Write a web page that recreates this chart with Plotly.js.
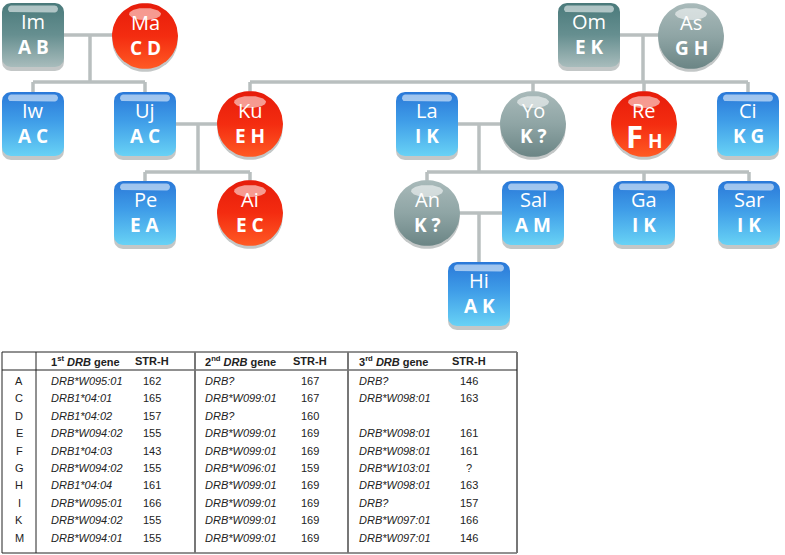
<!DOCTYPE html>
<html><head><meta charset="utf-8">
<script src="https://cdn.plot.ly/plotly-3.0.1.min.js"></script>
<style>html,body{margin:0;padding:0;background:#fff}</style>
</head><body><div id="chart" style="width:785px;height:555px"></div>
<script>
// ---- pedigree members ----
const names    = ['Im','Ma','Iw','Uj','Ku','Pe','Ai','Om','As','La','Yo','Re','Ci','An','Sal','Ga','Sar','Hi'];
const allele1  = ['A','C','A','A','E','E','E','E','G','I','K','F','K','K','A','I','I','A'];
const allele2  = ['B','D','C','C','H','A','C','K','H','K','?','H','G','?','M','K','K','K'];
const sex      = ['m','f','m','m','f','m','f','m','f','m','f','f','m','f','m','m','m','m'];
const group    = ['grey','red','blue','blue','red','blue','red','grey','grey','blue','grey','red','blue','grey','blue','blue','blue','blue'];
const bigFirst = [false,false,false,false,false,false,false,false,false,false,false,true,false,false,false,false,false,false];

// ---- matings (parent1, parent2, children) ----
const famP1   = ['Im','Uj','Om','La','An'];
const famP2   = ['Ma','Ku','As','Yo','Sal'];
const famKids = [['Iw','Uj'],['Pe','Ai'],['Ku','Yo','Re','Ci'],['An','Ga','Sar'],['Hi']];

// ---- allele table ----
const alleleIds = ['A','C','D','E','F','G','H','I','K','M'];
const gene1 = ['DRB*W095:01','DRB1*04:01','DRB1*04:02','DRB*W094:02','DRB1*04:03','DRB*W094:02','DRB1*04:04','DRB*W095:01','DRB*W094:02','DRB*W094:01'];
const strH1 = ['162','165','157','155','143','155','161','166','155','155'];
const gene2 = ['DRB?','DRB*W099:01','DRB?','DRB*W099:01','DRB*W099:01','DRB*W096:01','DRB*W099:01','DRB*W099:01','DRB*W099:01','DRB*W099:01'];
const strH2 = ['167','167','160','169','169','159','169','169','169','169'];
const gene3 = ['DRB?','DRB*W098:01','','DRB*W098:01','DRB*W098:01','DRB*W103:01','DRB*W098:01','DRB?','DRB*W097:01','DRB*W097:01'];
const strH3 = ['146','163','','161','161','?','163','157','166','146'];
const headers = ['<b>1<sup>st</sup> <i>DRB</i> gene</b>','<b>STR-H</b>','<b>2<sup>nd</sup> <i>DRB</i> gene</b>','<b>STR-H</b>','<b>3<sup>rd</sup> <i>DRB</i> gene</b>','<b>STR-H</b>'];

// ---- layout (pixel positions) ----
const nodePos = {Im:[33,35],Ma:[145,36],Iw:[33,124],Uj:[145,124],Ku:[250,124],Pe:[145,213],Ai:[250,213],
  Om:[589,35],As:[691,36],La:[427,124],Yo:[533,124],Re:[644,124],Ci:[748,124],An:[427,213],Sal:[533,213],
  Ga:[644,213],Sar:[749,213],Hi:[479,294]};
const famDrop = [90,198,643,479,479];
const famBar  = [82,172,82,172,262];
const BW=62, BH=64, BR=9, CR=33;

// colour stops written top -> bottom
const styles = {
  blue:{m:[[0,'#2a78d8'],[0.45,'#3f9de8'],[1,'#68d2f5']]},
  grey:{m:[[0,'#4a7a7b'],[0.5,'#668f90'],[1,'#a8bcbc']], f:[[0,'#a9baba'],[0.5,'#8fa5a5'],[1,'#6b8585']]},
  red:{f:[[0,'#e61c0a'],[0.5,'#f42c10'],[1,'#ff5a24']]}
};
const flip = cs => cs.map(s=>[1-s[0],s[1]]).reverse();

function rrect(cx,cy,w,h,r,dy){
  const xs=[],ys=[];const x0=cx-w/2,x1=cx+w/2,y0=cy-h/2+(dy||0),y1=cy+h/2+(dy||0);
  const corners=[[x1-r,y0+r,-90],[x1-r,y1-r,0],[x0+r,y1-r,90],[x0+r,y0+r,180]];
  corners.forEach(c=>{for(let i=0;i<=8;i++){const a=(c[2]+i*90/8)*Math.PI/180;xs.push(c[0]+r*Math.cos(a));ys.push(c[1]+r*Math.sin(a));}});
  xs.push(xs[0]);ys.push(ys[0]);return [xs,ys];
}
function ell(cx,cy,rx,ry){const xs=[],ys=[];for(let i=0;i<=72;i++){const a=i*2*Math.PI/72;xs.push(cx+rx*Math.cos(a));ys.push(cy+ry*Math.sin(a));}return [xs,ys];}

const traces=[];
// connecting lines
const lx=[],ly=[];
function seg(a,b,c,d){lx.push(a,c,null);ly.push(b,d,null);}
famP1.forEach((p,i)=>{
  const a=nodePos[p],b=nodePos[famP2[i]];
  seg(a[0],a[1],b[0],a[1]);
  seg(famDrop[i],a[1],famDrop[i],famBar[i]);
  const kx=famKids[i].map(k=>nodePos[k][0]).concat([famDrop[i]]);
  seg(Math.min(...kx),famBar[i],Math.max(...kx),famBar[i]);
  famKids[i].forEach(k=>seg(nodePos[k][0],famBar[i],nodePos[k][0],nodePos[k][1]));
});
traces.push({x:lx,y:ly,mode:'lines',line:{color:'#b9bfbf',width:3.5},hoverinfo:'skip',showlegend:false});

const shapes=[], ann=[];
names.forEach((n,i)=>{
  const [cx,cy]=nodePos[n];
  const sq=sex[i]==='m';
  const sh= sq? rrect(cx,cy,BW,BH,BR,4) : ell(cx,cy+3,CR,CR);
  traces.push({x:sh[0],y:sh[1],mode:'lines',fill:'toself',fillcolor:'#c3c7c7',line:{width:0},hoverinfo:'skip',showlegend:false});
  const body= sq? rrect(cx,cy,BW,BH,BR,0) : ell(cx,cy,CR,CR);
  const cs=flip(styles[group[i]][sex[i]]);
  traces.push({x:body[0],y:body[1],mode:'lines',fill:'toself',
    fillgradient:{type:'vertical',colorscale:cs},line:{width:0},hoverinfo:'skip',showlegend:false});
  const gl= sq? rrect(cx,cy-BH/2+6,BW-12,7,3.5,0) : ell(cx,cy-CR+11,16,6);
  traces.push({x:gl[0],y:gl[1],mode:'lines',fill:'toself',fillcolor:'rgba(255,255,255,0.55)',line:{width:0},hoverinfo:'skip',showlegend:false});
  ann.push({x:cx,y:cy-14,xref:'x',yref:'y',text:n,showarrow:false,font:{family:'Open Sans',size:20,color:'#fff'}});
  const g= bigFirst[i] ? '<span style="font-size:31px">'+allele1[i]+'</span> '+allele2[i] : allele1[i]+' '+allele2[i];
  ann.push({x:cx,y:cy+12,xref:'x',yref:'y',text:'<b>'+g+'</b>',showarrow:false,font:{family:'Open Sans',size:19,color:'#fff'}});
});

// table
const T={l:2,r:517,t:352,b:553,h:370};
const L=(x0,y0,x1,y1,c,w)=>shapes.push({type:'line',xref:'x',yref:'y',x0,y0,x1,y1,line:{color:c,width:w}});
L(T.l,T.t,T.r,T.t,'#222',1);L(T.l,T.b,T.r,T.b,'#222',1);L(T.l,T.t,T.l,T.b,'#222',1);L(T.r,T.t,T.r,T.b,'#777',2);
L(T.l,T.h,T.r,T.h,'#222',1);L(36,T.t,36,T.b,'#222',1);L(195,T.t,195,T.b,'#777',2);L(348,T.t,348,T.b,'#777',2);
const colX=[49,152,203,310,357,469], colA=['left','center','left','center','left','center'];
const tf={family:'Liberation Sans, Arial',size:11,color:'#222'};
headers.forEach((h,j)=>ann.push({x:colX[j],y:361,xref:'x',yref:'y',text:h,showarrow:false,xanchor:colA[j],font:tf}));
const cols=[gene1,strH1,gene2,strH2,gene3,strH3];
alleleIds.forEach((a,i)=>{
  const y=381+i*17.4;
  ann.push({x:19,y,xref:'x',yref:'y',text:a,showarrow:false,font:tf});
  cols.forEach((c,j)=>{ if(c[i]) ann.push({x:colX[j],y,xref:'x',yref:'y',text: j%2===0?'<i>'+c[i]+'</i>':c[i],showarrow:false,xanchor:colA[j],font:tf});});
});

Plotly.newPlot('chart',traces,{width:785,height:555,margin:{l:0,r:0,t:0,b:0},
  paper_bgcolor:'#fff',plot_bgcolor:'#fff',showlegend:false,
  xaxis:{range:[0,785],visible:false,fixedrange:true},
  yaxis:{range:[555,0],visible:false,fixedrange:true},
  shapes,annotations:ann},{staticPlot:true,displayModeBar:false});
</script></body></html>
